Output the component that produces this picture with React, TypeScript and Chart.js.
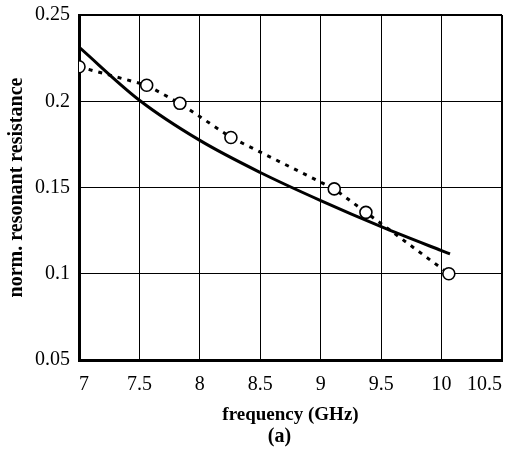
import React, { useEffect, useRef } from "react";
import { Chart, registerables } from "chart.js";

Chart.register(...registerables);

const xTicksLabel = "frequency (GHz)";
const yTitle = "norm. resonant resistance";
const caption = "(a)";

// solid curve (theory)
const solidFreq = [7.0, 7.5, 8.0, 8.5, 9.0, 9.5, 10.0, 10.07];
const solidRes = [0.2314, 0.2006, 0.1773, 0.1587, 0.1424, 0.1273, 0.1134, 0.1115];

// dashed curve with circles (measurement)
const measFreq = [7.0, 7.56, 7.835, 8.257, 9.112, 9.374, 10.06];
const measRes = [0.22, 0.2093, 0.1988, 0.179, 0.1492, 0.1356, 0.1];

const X_MIN = 7;
const X_MAX = 10.5;
const Y_MIN = 0.05;
const Y_MAX = 0.25;

const FONT = "'Liberation Serif', 'Times New Roman', serif";

const captionPlugin = {
  id: "caption",
  afterDraw(chart: any) {
    const { ctx, chartArea } = chart;
    ctx.save();
    ctx.fillStyle = "#000";
    ctx.font = `bold 20px ${FONT}`;
    ctx.textAlign = "center";
    ctx.textBaseline = "middle";
    const cx = (chartArea.left + chartArea.right) / 2 - 11;
    ctx.fillText(caption, cx, chart.height - 23);
    ctx.restore();
  },
};

export default function App() {
  const ref = useRef<HTMLCanvasElement | null>(null);

  useEffect(() => {
    if (!ref.current) return;
    const solid = solidFreq.map((x, i) => ({ x, y: solidRes[i] }));
    const meas = measFreq.map((x, i) => ({ x, y: measRes[i] }));
    const chart = new Chart(ref.current, {
      type: "line",
      data: {
        datasets: [
          {
            data: solid,
            borderColor: "#000",
            borderWidth: 3,
            pointRadius: 0,
            cubicInterpolationMode: "monotone",
            fill: false,
          },
          {
            data: meas,
            borderColor: "#000",
            borderWidth: 3,
            borderDash: [4, 6],
            pointRadius: 6,
            pointBorderWidth: 1.6,
            pointBorderColor: "#000",
            pointBackgroundColor: "#fff",
            tension: 0,
            fill: false,
          },
        ],
      },
      plugins: [captionPlugin],
      options: {
        responsive: false,
        animation: false,
        layout: { autoPadding: false, padding: { left: 0, right: 4, top: 15, bottom: 34 } },
        plugins: {
          legend: { display: false },
          tooltip: { enabled: false },
          title: { display: false },
        },
        scales: {
          x: {
            type: "linear",
            min: X_MIN,
            max: X_MAX,
            afterFit: (s: any) => {
              s.height = 66;
              s.paddingLeft = 0;
              s.paddingRight = 0;
            },
            ticks: {
              stepSize: 0.5,
              align: "inner",
              maxRotation: 0,
              color: "#000",
              padding: 13,
              font: { family: FONT, size: 20 },
              callback: (v: any) => String(Math.round(Number(v) * 100) / 100),
            },
            grid: {
              color: "#000",
              lineWidth: (c: any) => (c.tick && c.tick.value === X_MAX ? 2 : 1),
              drawTicks: false,
            },
            border: { color: "#000", width: 3 },
            title: {
              display: true,
              text: xTicksLabel,
              color: "#000",
              font: { family: FONT, size: 19, weight: "bold", lineHeight: 1.2 },
              padding: { top: 4, bottom: 0 },
            },
          },
          y: {
            type: "linear",
            min: Y_MIN,
            max: Y_MAX,
            afterFit: (s: any) => {
              s.width = 79;
              s.paddingTop = 0;
              s.paddingBottom = 0;
            },
            ticks: {
              stepSize: 0.05,
              color: "#000",
              padding: 9,
              font: { family: FONT, size: 20 },
              callback: (v: any) => String(Math.round(Number(v) * 100) / 100),
            },
            grid: {
              color: "#000",
              lineWidth: (c: any) => (c.tick && Math.abs(c.tick.value - Y_MAX) < 1e-9 ? 2 : 1),
              drawTicks: false,
            },
            border: { color: "#000", width: 3 },
            title: {
              display: true,
              text: yTitle,
              color: "#000",
              font: { family: FONT, size: 20, weight: "bold", lineHeight: 1.2 },
              padding: { top: 5, bottom: 0 },
            },
          },
        },
      },
    });
    return () => chart.destroy();
  }, []);

  return (
    <div style={{ position: "fixed", left: 0, top: 0, width: 506, height: 460, background: "#fff" }}>
      <canvas ref={ref} width={506} height={460} style={{ display: "block" }} />
    </div>
  );
}
